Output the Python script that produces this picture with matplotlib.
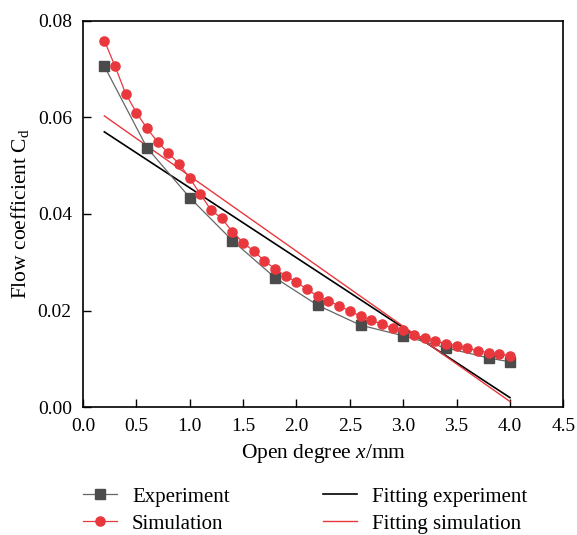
import numpy as np
import matplotlib
matplotlib.use("Agg")
import matplotlib.pyplot as plt

#Data
exp_x = [0.2, 0.6, 1.0, 1.4, 1.8, 2.2, 2.6, 3.0, 3.4, 3.8, 4.0]
exp_cd = [0.0706, 0.0537, 0.0434, 0.0345, 0.0268, 0.0211, 0.0170, 0.0148, 0.0123, 0.0102, 0.0094]

sim_x = [0.2, 0.3, 0.4, 0.5, 0.6, 0.7, 0.8, 0.9, 1.0, 1.1,
         1.2, 1.3, 1.4, 1.5, 1.6, 1.7, 1.8, 1.9, 2.0, 2.1,
         2.2, 2.3, 2.4, 2.5, 2.6, 2.7, 2.8, 2.9, 3.0, 3.1,
         3.2, 3.3, 3.4, 3.5, 3.6, 3.7, 3.8, 3.9, 4.0]
sim_cd = [0.0759, 0.0706, 0.0649, 0.0610, 0.0577, 0.0549, 0.0526, 0.0504, 0.0474, 0.0441,
          0.0408, 0.0391, 0.0363, 0.0341, 0.0323, 0.0303, 0.0286, 0.0272, 0.0259, 0.0244,
          0.0230, 0.0220, 0.0210, 0.0199, 0.0189, 0.0180, 0.0172, 0.0164, 0.0159, 0.0150,
          0.0144, 0.0137, 0.0132, 0.0127, 0.0122, 0.0117, 0.0113, 0.0110, 0.0106]

#Fitted straight lines (end points)
fit_x = [0.2, 4.0]
fit_exp = [0.0570, 0.0020]
fit_sim = [0.0603, 0.0012]

red = "#e8383d"
grey = "#4b4b4b"

plt.rcParams['font.family'] = ['Liberation Serif', 'DejaVu Serif']
plt.rcParams['mathtext.fontset'] = 'custom'
plt.rcParams['mathtext.rm'] = 'Liberation Serif'
plt.rcParams['mathtext.it'] = 'Liberation Serif:italic'
plt.rcParams['font.size'] = 14

fig = plt.figure(figsize=(5.77, 5.35), dpi=100)
ax = fig.add_axes([0.1438, 0.2387, 0.8325, 0.7226])

l1, = ax.plot(exp_x, exp_cd, color="#666666", lw=0.9, marker="s", ms=6.8,
              mfc=grey, mec=grey, label="Experiment", zorder=3)
l2, = ax.plot(sim_x, sim_cd, color=red, lw=0.9, marker="o", ms=6.6,
              mfc=red, mec=red, label="Simulation", zorder=4)
l3, = ax.plot(fit_x, fit_exp, color="black", lw=1.2, label="Fitting experiment", zorder=2)
l4, = ax.plot(fit_x, fit_sim, color=red, lw=1.0, label="Fitting simulation", zorder=2)

ax.set_xlim(0, 4.5)
ax.set_ylim(0, 0.08)
ax.set_xticks(np.arange(0, 4.51, 0.5))
ax.set_yticks([0.0, 0.02, 0.04, 0.06, 0.08])
ax.set_xticklabels(["%.1f" % v for v in np.arange(0, 4.51, 0.5)])
ax.set_yticklabels(["0.00", "0.02", "0.04", "0.06", "0.08"])
ax.tick_params(direction="in", length=6, width=1.0, top=False, right=False, pad=8)
for s in ax.spines.values():
    s.set_linewidth(1.2)

ax.set_xlabel(r"Open degree $x$/mm", labelpad=5, fontsize=15.5)
ax.set_ylabel(r"Flow coefficient $\mathrm{C_d}$", labelpad=5, fontsize=15.5)

fig.legend(handles=[l1, l2, l3, l4], loc="upper left", bbox_to_anchor=(0.144, 0.0897), ncol=2,
           frameon=False, borderpad=0, borderaxespad=0, handlelength=1.63,
           handletextpad=0.72, columnspacing=4.5, labelspacing=0.36, fontsize=15)

fig.savefig("out.png", dpi=100)
